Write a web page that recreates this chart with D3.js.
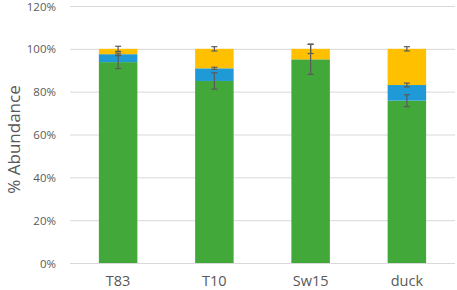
<!DOCTYPE html>
<html><head><meta charset="utf-8">
<script src="https://cdn.jsdelivr.net/npm/d3@7"></script>
<style>body{margin:0;background:#fff}svg{display:block}text{font-family:"Open Sans","Liberation Sans",sans-serif}</style>
</head><body><svg id="c" width="457" height="290"></svg>
<script>
const categories = ["T83","T10","Sw15","duck"];
const greenVals = [93.8, 85.0, 95.1, 75.8];
const blueVals = [3.7, 5.9, 0.0, 7.3];
const yellowVals = [2.5, 9.1, 4.9, 16.9];
const greenErr = [3.0, 3.8, 7.0, 2.8];
const blueErr = [0.5, 0.5, 0.0, 0.9];
const yellowErr = [1.2, 1.0, 2.2, 1.0];
const yTicks = [0,20,40,60,80,100,120];

const svg = d3.select("#c");
const m = {l:70, r:455, t:6, b:263};
const x = d3.scaleBand().domain(categories).range([m.l, m.r]).paddingInner(0.6).paddingOuter(0.3);
const y = d3.scaleLinear().domain([0,120]).range([m.b, m.t]);

// gridlines
svg.append("g").selectAll("line").data(yTicks).join("line")
  .attr("x1", m.l).attr("x2", m.r)
  .attr("y1", d=>y(d)+0.5).attr("y2", d=>y(d)+0.5)
  .attr("stroke", "#d9d9d9").attr("stroke-width", 1);

// y labels
svg.append("g").selectAll("text").data(yTicks).join("text")
  .attr("x", 56).attr("y", d=>y(d)+4.5)
  .attr("text-anchor","end").attr("font-size", 11.5).attr("fill","#595959")
  .text(d=>d+"%");

svg.append("text").attr("transform",`translate(20,${(m.t+m.b)/2+5}) rotate(-90)`)
  .attr("text-anchor","middle").attr("font-size",17).attr("fill","#595959").text("% Abundance");

// x labels
svg.append("g").selectAll("text").data(categories).join("text")
  .attr("x", d=>x(d)+x.bandwidth()/2).attr("y", 285.5)
  .attr("text-anchor","middle").attr("font-size",14.5).attr("fill","#595959").text(d=>d);

const series = [
  {vals: greenVals, err: greenErr, color: "#43a83a"},
  {vals: blueVals, err: blueErr, color: "#1f9ad6"},
  {vals: yellowVals, err: yellowErr, color: "#ffc000"}
];
const rows = categories.map((c,i)=>{
  const o = {cat:c}; series.forEach((s,j)=>o["s"+j]=s.vals[i]); return o;
});
const stack = d3.stack().keys(["s0","s1","s2"])(rows);

stack.forEach((layer,j)=>{
  svg.append("g").selectAll("rect").data(layer).join("rect")
    .attr("x", d=>x(d.data.cat)).attr("width", x.bandwidth())
    .attr("y", d=>y(d[1])).attr("height", d=>y(d[0])-y(d[1]))
    .attr("fill", series[j].color);
});

// error bars
const eg = svg.append("g").attr("stroke","#5a5a5a").attr("stroke-width",1.2);
stack.forEach((layer,j)=>{
  layer.forEach((d,i)=>{
    const e = series[j].err[i];
    if (series[j].vals[i] <= 0) return;
    const cx = x(d.data.cat)+x.bandwidth()/2;
    const y1 = y(d[1]+e), y2 = y(d[1]-e);
    eg.append("line").attr("x1",cx).attr("x2",cx).attr("y1",y1).attr("y2",y2);
    eg.append("line").attr("x1",cx-3).attr("x2",cx+3).attr("y1",y1).attr("y2",y1);
    eg.append("line").attr("x1",cx-3).attr("x2",cx+3).attr("y1",y2).attr("y2",y2);
  });
});
</script></body></html>
